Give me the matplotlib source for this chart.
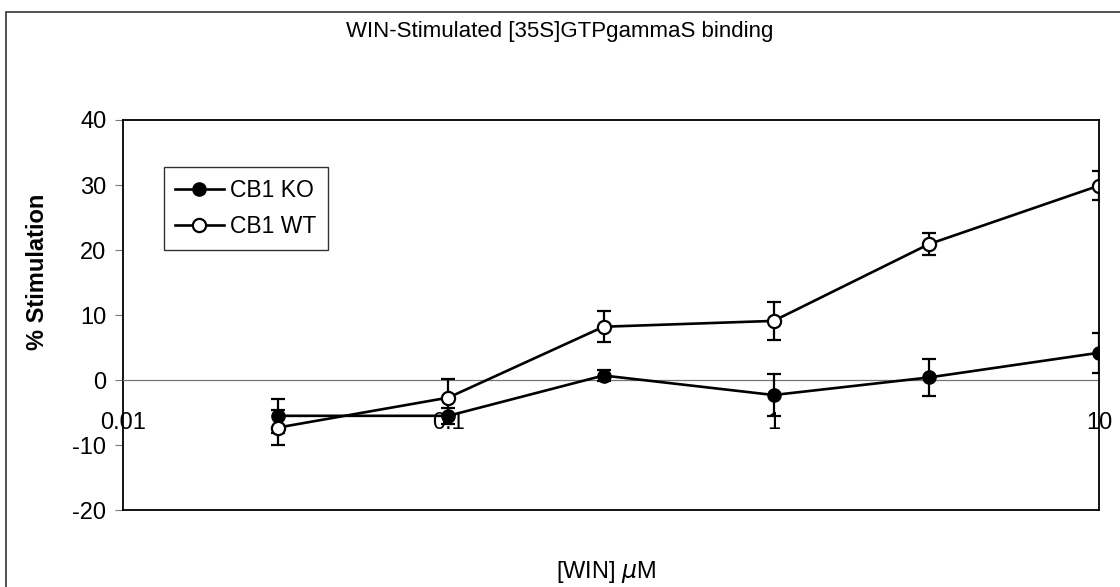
import matplotlib.pyplot as plt
from matplotlib.patches import Rectangle
from matplotlib.lines import Line2D

plt.rcParams['font.family'] = ['Liberation Sans', 'DejaVu Sans']
plt.rcParams['axes.unicode_minus'] = False

# WIN concentration (uM)
conc = [0.03, 0.1, 0.3, 1, 3, 10]

# % stimulation, mean and error
ko_mean = [-5.5, -5.5, 0.7, -2.3, 0.4, 4.2]
ko_err = [2.6, 1.2, 0.8, 3.2, 2.9, 3.1]
wt_mean = [-7.3, -2.7, 8.2, 9.1, 20.9, 29.9]
wt_err = [2.7, 2.8, 2.4, 2.9, 1.7, 2.2]

x_ticks = [0.01, 0.1, 1, 10]
x_tick_labels = ["0.01", "0.1", "1", "10"]
y_ticks = [-20, -10, 0, 10, 20, 30, 40]

fig = plt.figure(figsize=(11.2, 5.87), dpi=100)
ax = fig.add_axes([0.1098, 0.131, 0.8714, 0.6646])

# outer chart border (runs off the right and bottom edges)
fig.patches.append(Rectangle((6 / 1120, -0.1), 1.2, 1 - 12 / 587 + 0.1,
                             transform=fig.transFigure, fill=False,
                             edgecolor="#333333", lw=1.2))

ax.errorbar(conc, ko_mean, yerr=ko_err, color="black", lw=1.9,
            marker="o", ms=9.5, mfc="black", mec="black",
            capsize=5, capthick=1.6, elinewidth=1.6, zorder=4)
ax.errorbar(conc, wt_mean, yerr=wt_err, color="black", lw=1.9,
            marker="o", ms=9.5, mfc="white", mec="black", mew=1.6,
            capsize=5, capthick=1.6, elinewidth=1.6, zorder=5)

ax.set_xscale("log")
ax.set_xlim(0.01, 10)
ax.set_ylim(-20, 40)
ax.set_xticks(x_ticks)
ax.set_xticklabels(x_tick_labels)
ax.minorticks_off()
ax.set_yticks(y_ticks)

# x axis crosses at zero, plot-area frame stays around the box
ax.spines["bottom"].set_position(("data", 0))
ax.spines["bottom"].set_color("#777777")
ax.spines["bottom"].set_linewidth(0.9)
ax.axhline(-20, color="black", lw=1.3, clip_on=False)
for side in ["top", "right", "left"]:
    ax.spines[side].set_color("black")
    ax.spines[side].set_linewidth(1.3)
ax.spines["right"].set_zorder(6)

ax.tick_params(axis="x", length=0, pad=23, labelsize=17)
ax.tick_params(axis="y", length=6, color="#777777", pad=6, labelsize=17)

fig.text(38 / 1120, 1 - 272 / 587, "% Stimulation", rotation=90,
         ha="center", va="center", fontsize=17, fontweight="bold")
fig.text(606 / 1120, 1 - 572 / 587, r"[WIN] $\mu$M", ha="center",
         va="center", fontsize=17)
fig.text(560 / 1120, 1 - 31 / 587, "WIN-Stimulated [35S]GTPgammaS binding",
         ha="center", va="center", fontsize=16)

handles = [
    Line2D([], [], color="black", lw=1.9, marker="o", ms=9.5,
           mfc="black", mec="black"),
    Line2D([], [], color="black", lw=1.9, marker="o", ms=9.5,
           mfc="white", mec="black", mew=1.6),
]
leg = ax.legend(handles, ["CB1 KO", "CB1 WT"], loc="upper left",
                bbox_to_anchor=(0.042, 0.879), fontsize=16.5,
                frameon=True, fancybox=False, edgecolor="black",
                handlelength=2.1, borderpad=0.5, labelspacing=0.6,
                handletextpad=0.3, borderaxespad=0)
leg.get_frame().set_linewidth(1.0)

fig.savefig("out.png", dpi=100)
plt.close()
